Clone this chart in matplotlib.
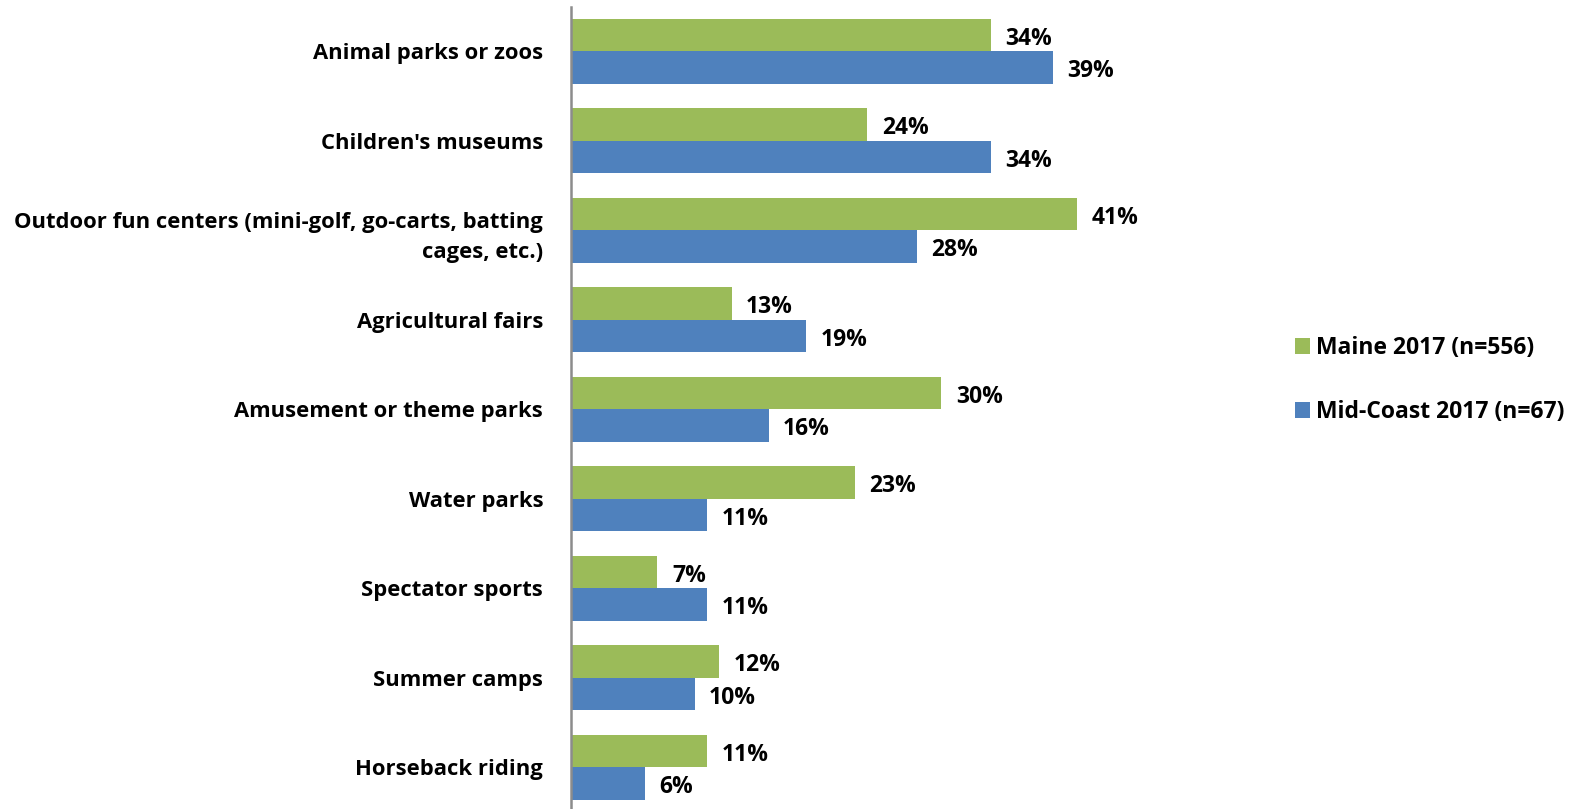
import matplotlib
matplotlib.use("Agg")
import matplotlib.pyplot as plt
from matplotlib.patches import Patch
import numpy as np

categories = [
    "Animal parks or zoos",
    "Children's museums",
    "Outdoor fun centers (mini-golf, go-carts, batting\ncages, etc.)",
    "Agricultural fairs",
    "Amusement or theme parks",
    "Water parks",
    "Spectator sports",
    "Summer camps",
    "Horseback riding",
]
maine_2017 = [34, 24, 41, 13, 30, 23, 7, 12, 11]
midcoast_2017 = [39, 34, 28, 19, 16, 11, 11, 10, 6]
series_names = ["Maine 2017 (n=556)", "Mid-Coast 2017 (n=67)"]

GREEN = "#9BBB59"
BLUE = "#4F81BD"

plt.rcParams["font.family"] = ["Open Sans", "DejaVu Sans"]

W, H = 1577, 809
fig = plt.figure(figsize=(W / 100, H / 100), dpi=100)

left_px, top_px, pitch_px = 571, 6.5, 89.5
right_px = 1250
n = len(categories)
ax_h = n * pitch_px
ax = fig.add_axes([left_px / W, (H - top_px - ax_h) / H,
                   (right_px - left_px) / W, ax_h / H])

scale = 12.35  # pixels per percentage point
ax.set_xlim(0, (right_px - left_px) / scale)
ax.set_ylim(n - 0.5, -0.5)

y = np.arange(n)
bh = 0.365
ax.barh(y - bh / 2, maine_2017, height=bh, color=GREEN, edgecolor="none")
ax.barh(y + bh / 2, midcoast_2017, height=bh, color=BLUE, edgecolor="none")

for yi, v in zip(y - bh / 2, maine_2017):
    ax.annotate(f"{v}%", (v, yi), xytext=(10.5, -2.8), textcoords="offset points",
                va="center", ha="left", fontsize=16.5, fontweight="bold")
for yi, v in zip(y + bh / 2, midcoast_2017):
    ax.annotate(f"{v}%", (v, yi), xytext=(10.5, -2.8), textcoords="offset points",
                va="center", ha="left", fontsize=16.5, fontweight="bold")

ax.set_yticks(y)
ax.set_yticklabels(categories, fontsize=15.8, fontweight="bold",
                   ha="right", linespacing=1.6)
ax.tick_params(axis="y", length=0, pad=20)
ax.set_xticks([])

for s in ["top", "right", "bottom"]:
    ax.spines[s].set_visible(False)
ax.spines["left"].set_color("#8C8C8C")
ax.spines["left"].set_linewidth(1.8)

handles = [Patch(facecolor=GREEN, label=series_names[0]),
           Patch(facecolor=BLUE, label=series_names[1])]
fig.legend(handles=handles, loc="center left",
           bbox_to_anchor=(1274 / W, 1 - 380 / H), frameon=False,
           prop={"size": 16.5, "weight": "bold"},
           handlelength=0.65, handleheight=0.65, handletextpad=0.3,
           labelspacing=1.75)

fig.savefig("out.png", dpi=100)
